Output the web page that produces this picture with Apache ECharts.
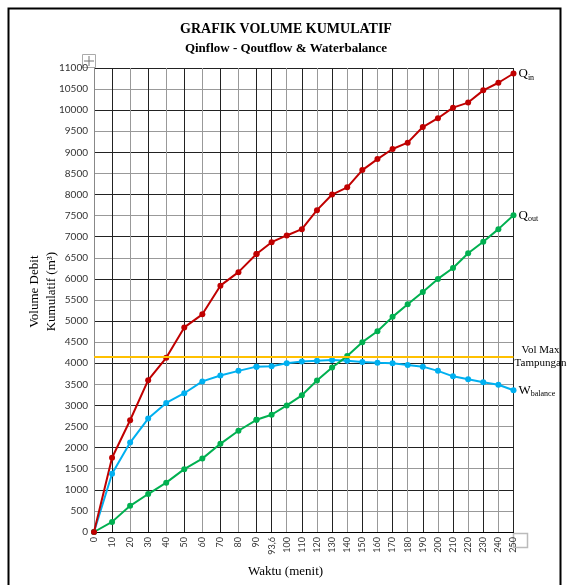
<!DOCTYPE html>
<html>
<head>
<meta charset="utf-8">
<script src="https://cdn.jsdelivr.net/npm/echarts@6/dist/echarts.min.js"></script>
<style>
  html, body { margin: 0; padding: 0; background: #fff; }
  #chart { width: 568px; height: 585px; }
</style>
</head>
<body>
<div id="chart"></div>
<script>
// data
var categories = ['0', '10', '20', '30', '40', '50', '60', '70', '80', '90', '93,6', '100', '110', '120', '130',
    '140', '150', '160', '170', '180', '190', '200', '210', '220', '230', '240', '250'];
var qin = [0, 1760, 2650, 3600, 4130, 4850, 5160, 5840, 6160, 6590, 6870, 7030, 7180, 7630, 8000,
    8170, 8580, 8840, 9080, 9230, 9600, 9810, 10060, 10180, 10470, 10650, 10870];
var qout = [0, 240, 620, 900, 1170, 1490, 1740, 2090, 2400, 2660, 2780, 3000, 3240, 3590, 3900,
    4170, 4500, 4760, 5100, 5400, 5690, 6000, 6260, 6610, 6880, 7180, 7510];
var wbalance = [0, 1380, 2120, 2690, 3060, 3290, 3570, 3710, 3820, 3920, 3930, 4000, 4040, 4060, 4080,
    4060, 4030, 4010, 4000, 3960, 3920, 3820, 3690, 3620, 3550, 3490, 3360];
var volMax = 4150;
var yTicks = { min: 0, max: 11000, interval: 500 };

// the reference axis is wider per step up to 90, narrower after -> two grids
var split = 9;

var colors = { qin: '#C00000', qout: '#00B050', wb: '#00B0F0', vol: '#FFC000' };
var serif = '"Liberation Serif", "Times New Roman", serif';
var sans = 'Lato, "Liberation Sans", sans-serif';

var chart = echarts.init(document.getElementById('chart'));

function xAxis(idx, data, gridColors, hideFirst) {
    return {
        type: 'category',
        gridIndex: idx,
        data: data,
        boundaryGap: false,
        axisLine: { lineStyle: { color: '#000', width: 1 } },
        axisTick: { show: false },
        axisLabel: {
            rotate: 90,
            fontFamily: sans,
            fontSize: 9,
            color: '#333',
            margin: 5,
            interval: hideFirst ? function (i) { return i !== 0; } : 0
        },
        splitLine: { show: true, lineStyle: { color: gridColors, width: 1 } }
    };
}

function yAxis(idx, showLabels) {
    return {
        type: 'value',
        gridIndex: idx,
        min: yTicks.min,
        max: yTicks.max,
        interval: yTicks.interval,
        axisLine: { show: showLabels, lineStyle: { color: '#888' } },
        axisTick: { show: false },
        axisLabel: {
            show: showLabels, fontFamily: sans, fontSize: 10, color: '#333', margin: 6,
            formatter: function (v) { return String(v); }
        },
        splitLine: { show: true, lineStyle: { color: ['#222', '#999'], width: 1 } }
    };
}

function sub(main, small) {
    return {
        show: true,
        distance: 5,
        formatter: '{q|' + main + '}{s|' + small + '}',
        rich: {
            q: { fontFamily: serif, fontSize: 13, color: '#000', lineHeight: 16 },
            s: { fontFamily: serif, fontSize: 8, color: '#000', lineHeight: 16, verticalAlign: 'bottom', padding: [6, 0, 0, 0] }
        }
    };
}

function line(name, data, color, part, endLabel, markLine) {
    var s = {
        name: name,
        type: 'line',
        xAxisIndex: part,
        yAxisIndex: part,
        data: data,
        symbol: 'circle',
        symbolSize: 6,
        itemStyle: { color: color },
        lineStyle: { color: color, width: 2 }
    };
    if (endLabel) s.endLabel = endLabel;
    if (markLine) s.markLine = markLine;
    return s;
}

function volLine(withLabel) {
    return {
        silent: true,
        symbol: 'none',
        lineStyle: { color: colors.vol, width: 2, type: 'solid' },
        label: withLabel ? {
            show: true,
            position: 'end',
            distance: 27,
            align: 'center',
            formatter: 'Vol Max\nTampungan',
            fontFamily: serif,
            fontSize: 11,
            lineHeight: 13,
            color: '#000'
        } : { show: false },
        data: [{ yAxis: volMax }]
    };
}

var option = {
    animation: false,
    backgroundColor: '#fff',
    title: [
        {
            text: 'GRAFIK VOLUME KUMULATIF',
            left: 281, top: 17, textAlign: 'center',
            textStyle: { fontFamily: serif, fontSize: 14, fontWeight: 'bold', color: '#000' }
        },
        {
            text: 'Qinflow - Qoutflow & Waterbalance',
            left: 281, top: 37, textAlign: 'center',
            textStyle: { fontFamily: serif, fontSize: 13, fontWeight: 'bold', color: '#000' }
        }
    ],
    grid: [
        { left: 94, top: 68, width: 162.5, height: 464 },
        { left: 256.5, top: 68, width: 257, height: 464 }
    ],
    xAxis: [
        xAxis(0, categories.slice(0, split + 1), ['#999', '#222'], false),
        xAxis(1, categories.slice(split), ['#222', '#999'], true)
    ],
    yAxis: [yAxis(0, true), yAxis(1, false)],
    series: [
        line('Wbalance', wbalance.slice(0, split + 1), colors.wb, 0, null, volLine(false)),
        line('Wbalance', wbalance.slice(split), colors.wb, 1, sub('W', 'balance'), volLine(true)),
        line('Qout', qout.slice(0, split + 1), colors.qout, 0),
        line('Qout', qout.slice(split), colors.qout, 1, sub('Q', 'out')),
        line('Qin', qin.slice(0, split + 1), colors.qin, 0),
        line('Qin', qin.slice(split), colors.qin, 1, sub('Q', 'in'))
    ],
    graphic: [
        // frame round the chart
        { type: 'rect', shape: { x: 8.5, y: 8.5, width: 552, height: 600 }, style: { fill: null, stroke: '#000', lineWidth: 2 } },
        {
            type: 'text', left: 26, top: 252,
            rotation: Math.PI / 2,
            style: { text: 'Volume Debit\nKumulatif (m³)', fontFamily: serif, fontSize: 13, lineHeight: 17, textAlign: 'center', fill: '#000' }
        },
        { type: 'rect', shape: { x: 82.5, y: 54.5, width: 13, height: 13 }, style: { fill: '#fff', stroke: '#aaa', lineWidth: 1 } },
        { type: 'line', shape: { x1: 89, y1: 56, x2: 89, y2: 66 }, style: { stroke: '#777', lineWidth: 1 } },
        { type: 'line', shape: { x1: 84, y1: 61, x2: 94, y2: 61 }, style: { stroke: '#777', lineWidth: 1 } },
        { type: 'rect', shape: { x: 513.5, y: 533.5, width: 14, height: 14 }, style: { fill: '#fff', stroke: '#bbb', lineWidth: 1.5 } },
        {
            type: 'text', left: 248, top: 565,
            style: { text: 'Waktu (menit)', fontFamily: serif, fontSize: 13, fill: '#000' }
        }
    ]
};

chart.setOption(option);
</script>
</body>
</html>
